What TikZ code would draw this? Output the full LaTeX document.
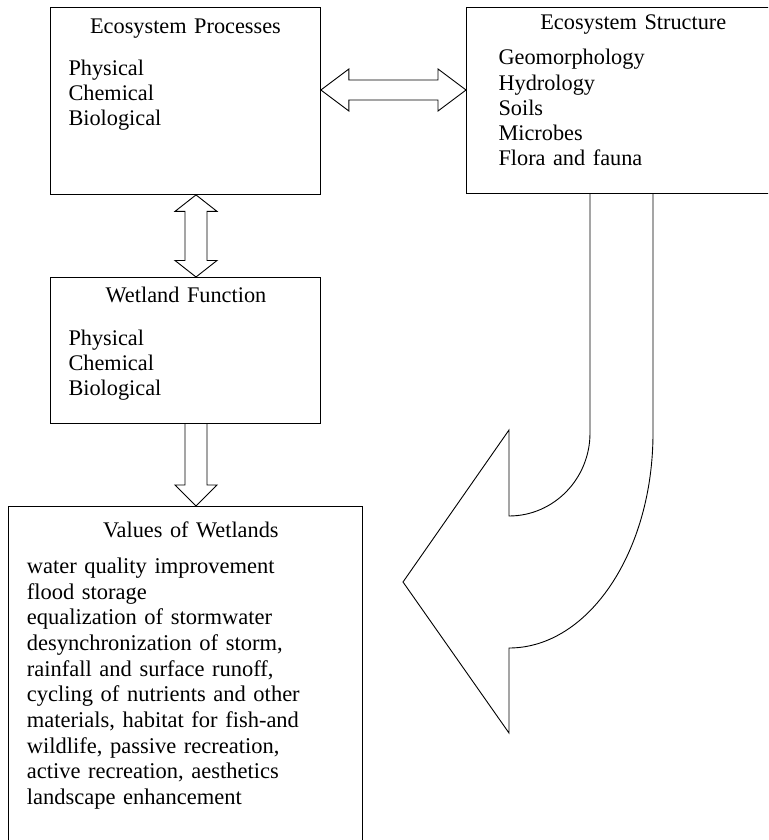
\documentclass[tikz,border=0pt]{standalone}
\usepackage{fontspec}
\setmainfont[WordSpace=1.35]{Liberation Serif}
\usetikzlibrary{calc}
\begin{document}
\begin{tikzpicture}[x=1pt,y=-1pt,
  box/.style={draw, line width=0.9pt, anchor=north west, inner sep=0pt},
  blockarrow/.style={draw, line width=0.9pt, line join=miter},
  boxtitle/.style={anchor=base, inner sep=0pt, font=\fontsize{22.3}{25}\selectfont},
  boxlines/.style={anchor=base west, inner sep=0pt, font=\fontsize{22.3}{25}\selectfont},
]
\clip (0,0) rectangle (768,840);
\useasboundingbox (0,0) rectangle (768,840);

% boxes
\node[box, minimum width=270pt, minimum height=187pt] (proc) at (50,7) {};
\node[box, minimum width=330pt, minimum height=186pt] (struct) at (466,7) {};
\node[box, minimum width=270pt, minimum height=146pt] (func) at (50,277) {};
\node[box, minimum width=354pt, minimum height=400pt] (vals) at (8,506) {};

% texts
\node[boxtitle] (proct) at (185.5,33.3) {Ecosystem Processes};
\node[boxlines] (procl) at (68.3,76) {\parbox[t]{200pt}{\raggedright Physical\\Chemical\\Biological}};

\node[boxtitle] (structt) at (633.3,30) {Ecosystem Structure};
\node[boxlines] (structl) at (498.3,65) {\parbox[t]{250pt}{\fontsize{22.3}{25.2}\selectfont\raggedright Geomorphology\\Hydrology\\Soils\\Microbes\\Flora and fauna}};

\node[boxtitle] (funct) at (186,302.7) {Wetland Function};
\node[boxlines] (funcl) at (68.3,345.7) {\parbox[t]{200pt}{\raggedright Physical\\Chemical\\Biological}};

\node[boxtitle] (valst) at (190.8,537.7) {Values of Wetlands};
\node[boxlines] (valsl) at (26.7,573.3) {\parbox[t]{330pt}{\fontsize{22.5}{25.7}\selectfont\raggedright
water quality improvement\\
flood storage\\
equalization of stormwater\\
desynchronization of storm,\\
rainfall and surface runoff,\\
cycling of nutrients and other\\
materials, habitat for fish-and\\
wildlife, passive recreation,\\
active recreation, aesthetics\\
landscape enhancement}};

% horizontal double arrow: processes <-> structure
\coordinate (hl) at ($(proc.north east)+(0,83)$);
\coordinate (hr) at ($(struct.north west)+(0,83)$);
\draw[blockarrow] (hl) -- ++(28,-21) -- ++(0,11) -- ($(hr)+(-28,-10)$) -- ++(0,-11) -- (hr)
  -- ++(-28,21) -- ++(0,-11) -- ($(hl)+(28,10)$) -- ++(0,11) -- cycle;

% vertical double arrow: processes <-> function
\coordinate (vt) at ($(proc.south west)+(146,0)$);
\coordinate (vb) at ($(func.north west)+(146,0)$);
\draw[blockarrow] (vt) -- ++(-21,16.5) -- ++(10,0) -- ($(vb)+(-11,-16.5)$) -- ++(-10,0) -- (vb)
  -- ++(21,-16.5) -- ++(-10,0) -- ($(vt)+(11,16.5)$) -- ++(10,0) -- cycle;

% down arrow: function -> values
\coordinate (dt) at ($(vals.north west)+(188,0)$);
\draw[blockarrow] ($(func.south west)+(135,0)$) -- ($(dt)+(-11,-21)$) -- ++(-10,0) -- (dt)
  -- ++(21,-21) -- ++(-10,0) -- ($(func.south west)+(157,0)$);

% big curved arrow: structure -> values
\draw[blockarrow] ($(struct.south west)+(124,0)$) -- (590,433)
  arc[start angle=0, end angle=-90, x radius=81pt, y radius=83pt]
  -- (509,430) -- (403,582) -- (509,733) -- (509,648)
  arc[start angle=-90, end angle=0, x radius=144pt, y radius=215pt]
  -- ($(struct.south west)+(187,0)$);
\end{tikzpicture}
\end{document}
